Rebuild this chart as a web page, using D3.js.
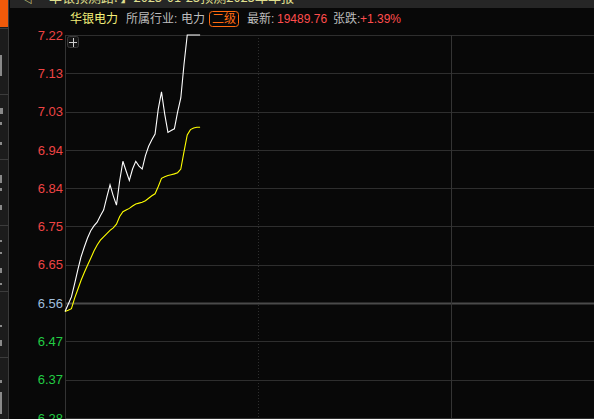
<!DOCTYPE html>
<html>
<head>
<meta charset="utf-8">
<script src="https://cdn.jsdelivr.net/npm/d3@7.9.0/dist/d3.min.js"></script>
<style>
  html, body { margin: 0; padding: 0; background: #080808; overflow: hidden; }
  svg { display: block; }
  text { font-family: "Liberation Sans", "Noto Sans CJK SC", sans-serif; }
  .cjk { font-family: "Noto Sans CJK SC", sans-serif; }
</style>
</head>
<body>
<svg id="chart" width="594" height="419"></svg>
<script>
// prices per minute from 09:30 (index 0)
const priceSeries = [
  6.539, 6.557, 6.575, 6.608, 6.642, 6.674, 6.698, 6.720, 6.738, 6.750,
  6.759, 6.775, 6.789, 6.821, 6.851, 6.824, 6.801, 6.861, 6.909, 6.885,
  6.862, 6.890, 6.909, 6.897, 6.890, 6.923, 6.946, 6.962, 6.976, 7.038,
  7.080, 7.025, 6.980, 6.985, 6.989, 7.030, 7.065, 7.148, 7.220, 7.220,
  7.220, 7.220, 7.220
];
const avgSeries = [
  6.539, 6.542, 6.546, 6.572, 6.594, 6.616, 6.635, 6.653, 6.670, 6.688,
  6.703, 6.715, 6.723, 6.731, 6.739, 6.745, 6.754, 6.773, 6.785, 6.789,
  6.793, 6.799, 6.804, 6.806, 6.808, 6.812, 6.818, 6.824, 6.829, 6.847,
  6.867, 6.871, 6.874, 6.876, 6.878, 6.881, 6.890, 6.933, 6.974, 6.987,
  6.991, 6.993, 6.993
];
const prevClose = 6.56;
const yTicks = [7.22, 7.1257, 7.0314, 6.9371, 6.8429, 6.7486, 6.6543, 6.56, 6.4657, 6.3714, 6.2771];
const gridMinutes = [60, 120, 180];
const sessionMinutes = 240;

const svg = d3.select('#chart');
const W = 594, H = 419;
const plotLeft = 65, plotTop = 35;

const x = d3.scaleLinear().domain([0, sessionMinutes]).range([plotLeft, plotLeft + 772]);
const y = d3.scaleLinear().domain([d3.min(yTicks), d3.max(yTicks)]).range([plotTop + 10 * 38.29, plotTop]);

// left sidebar
svg.append('rect').attr('x', 0).attr('y', 0).attr('width', 9).attr('height', H).attr('fill', '#1c1c1c');
svg.append('rect').attr('x', 0).attr('y', 0).attr('width', 8).attr('height', 27).attr('fill', '#f05a0a');
svg.append('line').attr('x1', 8.5).attr('x2', 8.5).attr('y1', 0).attr('y2', H).attr('stroke', '#3a3a3a');
[28, 94, 159, 225, 291, 357].forEach(sy => {
  svg.append('line').attr('x1', 0).attr('x2', 8).attr('y1', sy + 0.5).attr('y2', sy + 0.5).attr('stroke', '#3c3c3c');
});
[[55, 2, 8], [62, 2, 14], [108, 3, 6], [122, 2, 3], [142, 2, 3], [175, 2, 8], [188, 2, 3], [205, 2, 5],
 [240, 2, 2], [252, 2, 2], [268, 2, 5], [283, 2, 2], [325, 2, 2], [340, 2, 6], [380, 2, 3], [392, 2, 12], [404, 2, 10]]
  .forEach(([gy, gw, gh]) => {
    svg.append('rect').attr('x', 0).attr('y', gy).attr('width', gw).attr('height', gh).attr('fill', '#8a8a8a');
  });

// top strip (cut off title)
svg.append('rect').attr('x', 10).attr('y', 0).attr('width', W - 10).attr('height', 8).attr('fill', '#262626');
const clip = svg.append('clipPath').attr('id', 'topclip');
clip.append('rect').attr('x', 10).attr('y', 0).attr('width', W - 10).attr('height', 7);
svg.append('text').attr('class', 'cjk').attr('clip-path', 'url(#topclip)')
  .attr('x', 20).attr('y', 2).attr('font-size', 13).attr('fill', '#e0e090')
  .text('◁· 华银预测路: 】2025-01-25预测2025年年报');

// grid
const grid = svg.append('g');
grid.selectAll('line.h').data(yTicks).join('line')
  .attr('class', 'h')
  .attr('x1', plotLeft).attr('x2', W)
  .attr('y1', d => Math.round(y(d)) + 0.5).attr('y2', d => Math.round(y(d)) + 0.5)
  .attr('stroke', d => d === prevClose ? '#4a4a4a' : '#2e2e2e')
  .attr('stroke-width', d => d === prevClose ? 2 : 1);
grid.selectAll('line.v').data(gridMinutes).join('line')
  .attr('class', 'v')
  .attr('x1', d => Math.round(x(d)) + 0.5).attr('x2', d => Math.round(x(d)) + 0.5)
  .attr('y1', plotTop).attr('y2', H)
  .attr('stroke', d => d === 120 ? '#343434' : '#2e2e2e')
  .attr('stroke-dasharray', d => d === 120 ? null : '1,2');
grid.append('line').attr('x1', plotLeft + 0.5).attr('x2', plotLeft + 0.5).attr('y1', plotTop).attr('y2', H).attr('stroke', '#333');

// y labels
svg.append('g').selectAll('text').data(yTicks).join('text')
  .attr('x', 63).attr('y', d => y(d))
  .attr('dy', '0.36em')
  .attr('text-anchor', 'end')
  .attr('font-size', 13)
  .attr('fill', d => d > prevClose ? '#ee4444' : d < prevClose ? '#22cc44' : '#9fbedc')
  .text(d => d.toFixed(2));

// "+" box
svg.append('rect').attr('x', 67.5).attr('y', 36.5).attr('width', 11).attr('height', 11).attr('rx', 2)
  .attr('fill', '#151515').attr('stroke', '#3a3a3a');
svg.append('path').attr('d', 'M69,42.5H77M73.5,38V47').attr('stroke', '#cfcfcf').attr('stroke-width', 1);

// lines
const lineGen = d3.line().x((d, i) => x(i)).y(d => y(d));
svg.append('path').datum(avgSeries).attr('d', lineGen)
  .attr('fill', 'none').attr('stroke', '#ffff00').attr('stroke-width', 1.1);
svg.append('path').datum(priceSeries).attr('d', lineGen)
  .attr('fill', 'none').attr('stroke', '#ffffff').attr('stroke-width', 1.1);

// header
const hy = 23;
const hdr = svg.append('g').attr('class', 'cjk').attr('font-size', 12);
hdr.append('text').attr('x', 70).attr('y', hy).attr('fill', '#f4f07a').text('华银电力');
hdr.append('text').attr('x', 126).attr('y', hy).attr('fill', '#bdbdbd').text('所属行业:');
hdr.append('text').attr('x', 181).attr('y', hy).attr('fill', '#bdbdbd').text('电力');
hdr.append('rect').attr('x', 209.5).attr('y', 11.5).attr('width', 29).attr('height', 15).attr('rx', 3)
  .attr('fill', 'none').attr('stroke', '#ff6a10');
hdr.append('text').attr('x', 224).attr('y', hy).attr('text-anchor', 'middle').attr('fill', '#ff6a10').text('二级');
hdr.append('text').attr('x', 247).attr('y', hy).attr('fill', '#bdbdbd').text('最新:');
hdr.append('text').attr('x', 277).attr('y', hy).attr('fill', '#ff4d4d').attr('font-family', 'Liberation Sans').text('19489.76');
hdr.append('text').attr('x', 333).attr('y', hy).attr('fill', '#bdbdbd').text('张跌:');
hdr.append('text').attr('x', 360).attr('y', hy).attr('fill', '#ff4d4d').attr('font-family', 'Liberation Sans').text('+1.39%');
</script>
</body>
</html>
